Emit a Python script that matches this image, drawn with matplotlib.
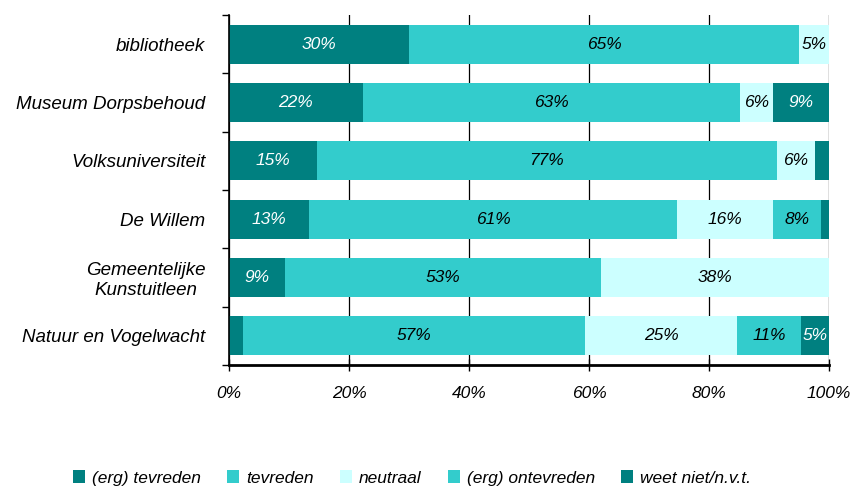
import numpy as np
import matplotlib
matplotlib.use('Agg')
import matplotlib.pyplot as plt
from matplotlib.ticker import FixedLocator

plt.rcParams['font.family'] = ['Liberation Sans', 'DejaVu Sans']
plt.rcParams['font.style'] = 'italic'

# categories, top to bottom
categories = ['bibliotheek', 'Museum Dorpsbehoud', 'Volksuniversiteit', 'De Willem',
              'Gemeentelijke\nKunstuitleen', 'Natuur en Vogelwacht']
series_names = ['(erg) tevreden', 'tevreden', 'neutraal', '(erg) ontevreden', 'weet niet/n.v.t.']

erg_tevreden = [30.0, 22.3, 14.7, 13.4, 9.3, 2.3]
tevreden = [65.0, 62.9, 76.6, 61.3, 52.7, 57.0]
neutraal = [5.0, 5.5, 6.4, 16.0, 38.0, 25.4]
erg_ontevreden = [0.0, 0.0, 0.0, 8.0, 0.0, 10.6]
weet_niet = [0.0, 9.3, 2.3, 1.3, 0.0, 4.7]

colors = ['#008080', '#33CCCC', '#CCFFFF', '#33CCCC', '#008080']
text_colors = ['white', 'black', 'black', 'black', 'white']

series = [erg_tevreden, tevreden, neutraal, erg_ontevreden, weet_niet]

fig = plt.figure(figsize=(8.5, 4.87), dpi=100)
ax = fig.add_axes([229 / 850, 1 - 365 / 487, 600 / 850, 350 / 487])

y = np.arange(len(categories))
left = np.zeros(len(categories))
for vals, name, col, tcol in zip(series, series_names, colors, text_colors):
    vals = np.array(vals)
    ax.barh(y, vals, left=left, height=0.67, color=col, label=name, zorder=2)
    for yi, (l, v) in enumerate(zip(left, vals)):
        if v >= 4.5:
            ax.text(l + v / 2, yi, f'{int(round(v))}%', ha='center', va='center',
                    color=tcol, fontsize=12.5, style='italic', zorder=3)
    left += vals

ax.set_xlim(0, 100)
ax.set_ylim(len(categories) - 0.5, -0.5)

ax.set_xticks(np.arange(0, 101, 20))
ax.set_xticklabels([f'{v}%' for v in range(0, 101, 20)], fontsize=12.5)
ax.tick_params(axis='x', direction='inout', length=8, width=1, pad=11)
ax.xaxis.grid(True, color='black', linewidth=0.9)
ax.set_axisbelow(True)

# y ticks at boundaries, labels at centres
ax.yaxis.set_major_locator(FixedLocator(np.arange(-0.5, len(categories), 1.0)))
ax.set_yticklabels([])
ax.tick_params(axis='y', which='major', direction='out', length=5, width=1)
ax.yaxis.set_minor_locator(FixedLocator(y))
ax.set_yticklabels(categories, minor=True, fontsize=13.5, multialignment='center')
ax.tick_params(axis='y', which='minor', length=0, pad=17)

ax.spines['top'].set_visible(False)
ax.spines['right'].set_visible(False)
ax.spines['bottom'].set_linewidth(2)
ax.spines['left'].set_linewidth(1.2)

handles, labels = ax.get_legend_handles_labels()
fig.legend(handles, labels, loc='center', ncol=5, frameon=False, fontsize=12.5,
           bbox_to_anchor=(412 / 850, 1 - 478 / 487), handlelength=0.7, handleheight=0.7,
           handletextpad=0.4, columnspacing=1.5)

fig.savefig('out.png', dpi=100)
